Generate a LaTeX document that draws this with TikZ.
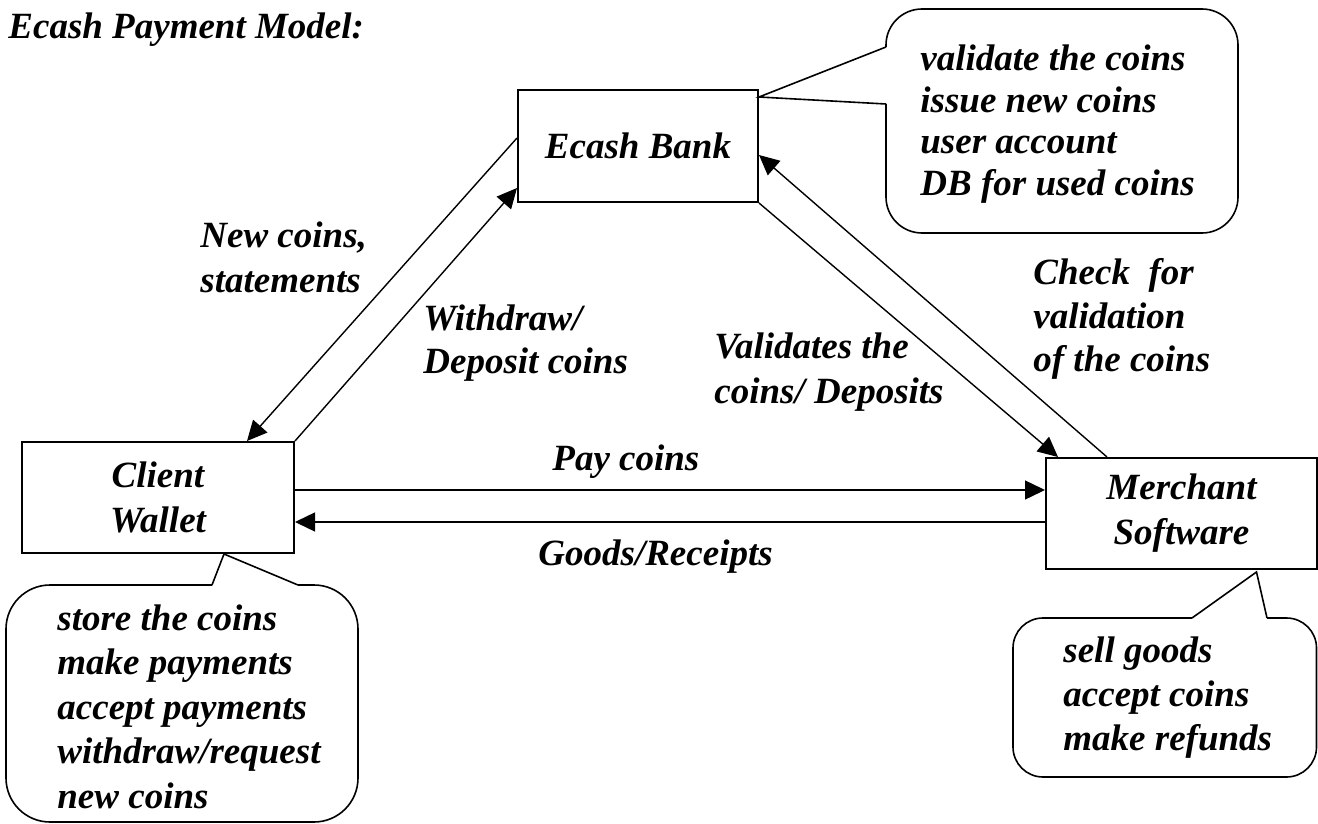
\documentclass[tikz,border=0pt]{standalone}
\usepackage{fontspec}
\setmainfont{Liberation Serif}
\usetikzlibrary{arrows.meta,calc}

% stacked lines: left-aligned and centred, first-line baseline as reference
\newcommand\lstack[2]{\vtop{\baselineskip=#1\relax\halign{##\hfil\cr#2\crcr}}}
\newcommand\cstack[2]{\vtop{\baselineskip=#1\relax\halign{\hfil##\hfil\cr#2\crcr}}}

\begin{document}
\begin{tikzpicture}[x=0.5pt,y=-0.5pt,
  every node/.style={font=\fontsize{18.5}{22}\selectfont\bfseries\itshape, inner sep=0pt},
  entity/.style={draw, line width=1pt, rectangle},
  flow/.style={line width=0.7pt, -{Triangle[length=10pt,width=9.5pt]}},
  balloon/.style={line width=0.8pt},
  txt/.style={anchor=base west}]

\useasboundingbox (0,0) rectangle (1318,824);

% title
\node[txt] (title) at (8,39) {Ecash Payment Model:};

% the three parties
\node[entity, minimum width=120pt, minimum height=56pt] (bank) at (638,146) {Ecash Bank};
\node[entity, minimum width=136pt, minimum height=55.5pt] (client) at (158,497.5)
  {\cstack{22.5pt}{Client\cr Wallet}};
\node[entity, minimum width=135.5pt, minimum height=55.5pt] (merch) at (1181.5,513.5)
  {\cstack{22.5pt}{Merchant\cr Software}};

% flows between the parties
\draw[flow] ($(bank.west)+(0,-8)$) -- ($(client.north)+(89,0)$);
\draw[flow] (client.north east) -- ($(bank.west)+(0,42)$);
\draw[flow] (bank.south east) -- ($(merch.north west)+(13,0)$);
\draw[flow] ($(merch.north west)+(62,0)$) -- ($(bank.east)+(0,9)$);
\coordinate (payrow) at (0,490);
\coordinate (goodsrow) at (0,522);
\draw[flow] (client.east |- payrow) -- (merch.west |- payrow);
\draw[flow] (merch.west |- goodsrow) -- (client.east |- goodsrow);

% flow labels
\node[txt] (lnew) at (200,247) {\lstack{22.5pt}{New coins,\cr statements}};
\node[txt] (lwd) at (423,330) {\lstack{21.5pt}{Withdraw/\cr Deposit coins}};
\node[txt] (lval) at (714,358) {\lstack{22.5pt}{Validates the\cr coins/ Deposits}};
\node[txt] (lchk) at (1033,285) {\lstack{21.75pt}{Check~ for\cr validation\cr of the coins}};
\node[txt] (lpay) at (552,470) {Pay coins};
\node[txt] (lgoods) at (538,565) {Goods/Receipts};

% bank balloon
\draw[balloon, rounded corners=18pt] (886,104) -- (886,233) -- (1238,233) -- (1238,9) -- (886,9) -- (886,47);
\draw[balloon] (886,47) -- ($(bank.north east)+(0,8)$) -- (886,104);
\node[txt] (nbank) at (920,71)
  {\lstack{20.75pt}{validate the coins\cr issue new coins\cr user account\cr DB for used coins}};

% client balloon
\draw[balloon, rounded corners=22pt] (298,585) -- (358,585) -- (358,822) -- (6,822) -- (6,585) -- (212,585);
\draw[balloon] (212,585) -- ($(client.south)+(66,0)$) -- (298,585);
\node[txt] (nclient) at (57,630)
  {\lstack{22.25pt}{store the coins\cr make payments\cr accept payments\cr withdraw/request\cr new coins}};

% merchant balloon
\draw[balloon, rounded corners=15pt] (1267,618) -- (1316.5,618) -- (1316.5,777) -- (1013,777) -- (1013,618) -- (1192,618);
\draw[balloon] (1192,618) -- ($(merch.south)+(75,2)$) -- (1267,618);
\node[txt] (nmerch) at (1063,662)
  {\lstack{22pt}{sell goods\cr accept coins\cr make refunds}};

\end{tikzpicture}
\end{document}
